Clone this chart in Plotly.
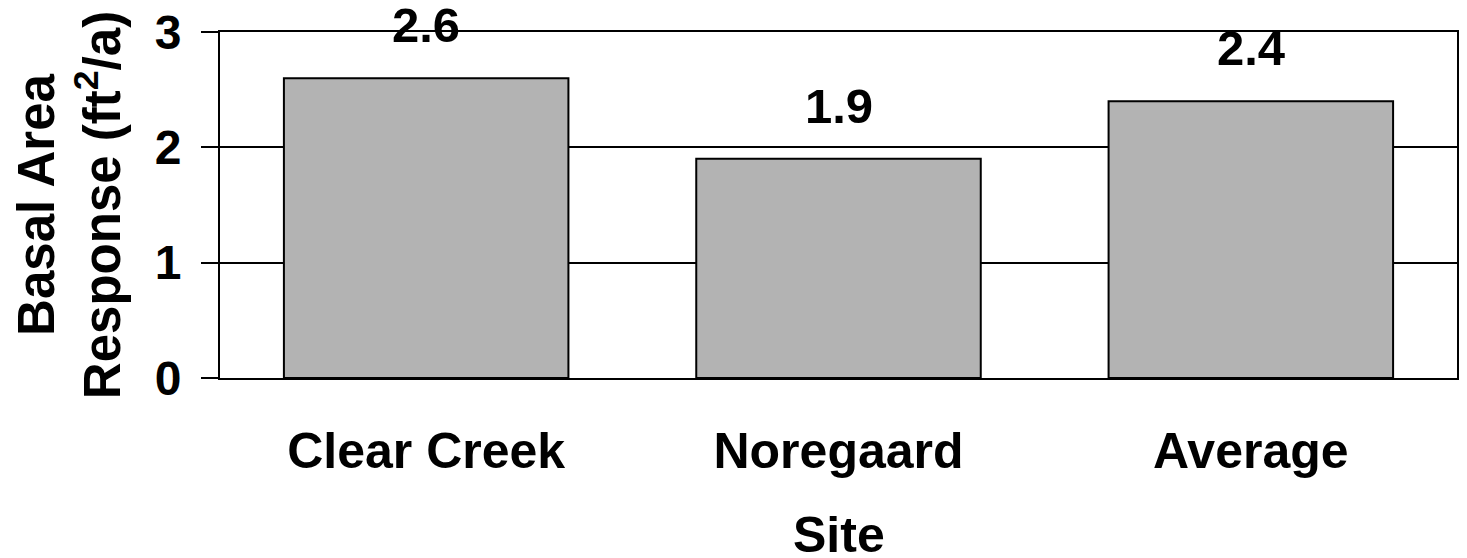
import plotly.graph_objects as go

sites = ["Clear Creek", "Noregaard", "Average"]
response = [2.6, 1.9, 2.4]
value_labels = ["2.6", "1.9", "2.4"]
y_ticks = [0, 1, 2, 3]

FONT = "Liberation Sans, Arial, sans-serif"

fig = go.Figure()
fig.add_trace(go.Bar(
    x=sites, y=response,
    marker=dict(color="#b3b3b3", line=dict(color="black", width=2)),
    width=0.69,
    hoverinfo="skip",
))

for s, v, t in zip(sites, response, value_labels):
    fig.add_annotation(x=s, y=v, text="<b>%s</b>" % t, showarrow=False,
                       yanchor="bottom", yshift=24,
                       font=dict(family=FONT, size=49, color="black"))

# x-axis title placed below the tick labels
fig.add_annotation(x=0.5, y=-0.455, xref="paper", yref="paper",
                   text="<b>Site</b>", showarrow=False, yanchor="middle",
                   font=dict(family=FONT, size=50, color="black"))

fig.update_layout(
    width=1467, height=558,
    margin=dict(l=220, r=10, t=32, b=180, autoexpand=False),
    plot_bgcolor="white", paper_bgcolor="white",
    showlegend=False,
    font=dict(family=FONT, color="black"),
    xaxis=dict(
        automargin=False,
        showline=True, linecolor="black", linewidth=2, mirror=True,
        ticks="", showgrid=False,
        tickfont=dict(family=FONT, size=50, color="black"),
        tickvals=sites, ticktext=["<b>%s</b>" % s for s in sites],
        ticklabelstandoff=28,
    ),
    yaxis=dict(
        automargin=False,
        range=[0, 3], tickvals=y_ticks,
        ticktext=["<b>%d</b>" % v for v in y_ticks],
        showline=True, linecolor="black", linewidth=2, mirror=True,
        ticks="outside", ticklen=17, tickwidth=2, tickcolor="black",
        showgrid=True, gridcolor="black", gridwidth=2,
        zeroline=False,
        tickfont=dict(family=FONT, size=48, color="black"),
        ticklabelstandoff=10,
        title=dict(text="<b>Basal Area</b><br><b>Response (ft<sup>2</sup>/a)</b>",
                   font=dict(family=FONT, size=51, color="black"),
                   standoff=18),
    ),
)

fig.write_html("out.html")
